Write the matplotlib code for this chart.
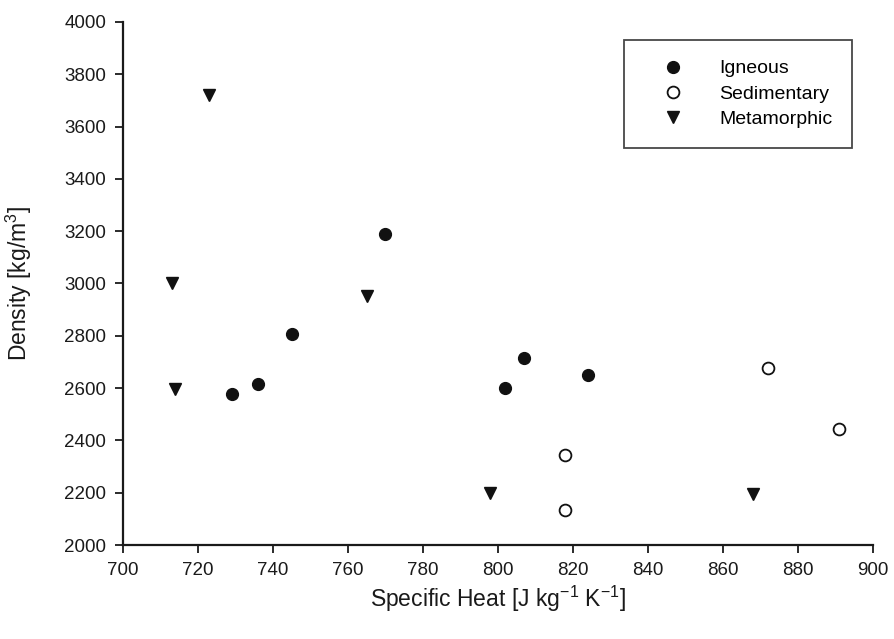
import matplotlib
matplotlib.use("Agg")
import matplotlib.pyplot as plt

plt.rcParams['font.family'] = ['Liberation Sans', 'DejaVu Sans']

ign_x = [729, 736, 745, 770, 802, 807, 824]
ign_y = [2578, 2616, 2807, 3190, 2602, 2716, 2650]
sed_x = [818, 818, 872, 891]
sed_y = [2346, 2135, 2677, 2444]
met_x = [723, 713, 714, 765, 798, 868]
met_y = [3720, 3000, 2597, 2952, 2200, 2196]

fig = plt.figure(figsize=(8.95, 6.39), dpi=100)
ax = fig.add_axes([0.1374, 0.1471, 0.8380, 0.8185])

ax.plot(ign_x, ign_y, 'o', color='#111111', markersize=8.5, label='Igneous', linestyle='none')
ax.plot(sed_x, sed_y, 'o', markerfacecolor='white', markeredgecolor='#111111', markeredgewidth=1.3,
        markersize=8.5, label='Sedimentary', linestyle='none')
ax.plot(met_x, met_y, 'v', color='#111111', markersize=9, label='Metamorphic', linestyle='none')

ax.set_xlim(700, 900)
ax.set_ylim(2000, 4000)
ax.set_xticks(range(700, 901, 20))
ax.set_yticks(range(2000, 4001, 200))
for s in ['top', 'right']:
    ax.spines[s].set_visible(False)
for s in ['left', 'bottom']:
    ax.spines[s].set_linewidth(1.6)
    ax.spines[s].set_color('#1a1a1a')
ax.tick_params(direction='out', length=6, width=1.3, labelsize=13.5, pad=6, colors='#1a1a1a')

ax.set_xlabel(r'Specific Heat [J kg$^{\mathregular{-1}}$ K$^{\mathregular{-1}}$]', fontsize=16.5, labelpad=4, color='#1a1a1a')
ax.set_ylabel(r'Density [kg/m$^{\mathregular{3}}$]', fontsize=16.5, labelpad=22, color='#1a1a1a')

leg = ax.legend(loc='upper right', bbox_to_anchor=(0.972, 0.965), frameon=True, fancybox=False,
                fontsize=14, borderpad=1.0, handletextpad=0.9, labelspacing=0.4, borderaxespad=0,
                handlelength=3.0)
leg.get_frame().set_edgecolor('#1a1a1a')
leg.get_frame().set_linewidth(1.3)

fig.savefig('out.png', dpi=100)
